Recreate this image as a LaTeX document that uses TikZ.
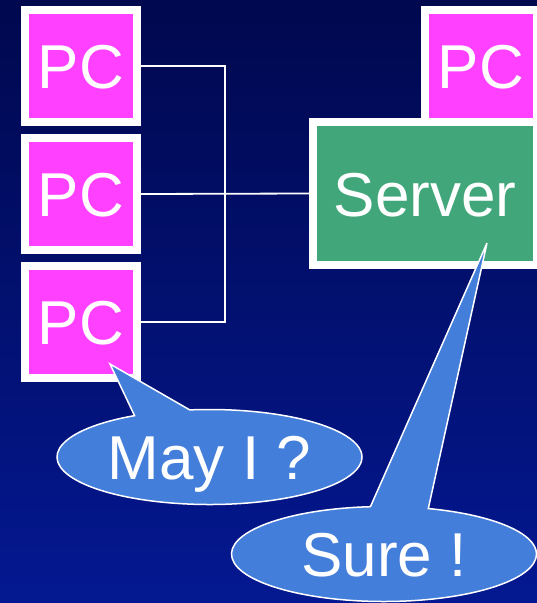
\documentclass[tikz,border=0pt]{standalone}
\usepackage{fontspec}
\setmainfont{Liberation Sans}
\usetikzlibrary{shapes.callouts, positioning}

\definecolor{pcmagenta}{RGB}{255,64,255}
\definecolor{servergreen}{RGB}{65,167,122}
\definecolor{bubbleblue}{RGB}{67,126,218}
\definecolor{bgtop}{RGB}{0,8,78}
\definecolor{bgbottom}{RGB}{4,24,145}

\begin{document}
\begin{tikzpicture}[
    x=1pt, y=-1pt,
    every node/.style={text=white, font=\fontsize{62}{62}\selectfont, text height=45pt, text depth=0pt, inner sep=0pt},
    pcbox/.style={rectangle, draw=white, line width=8pt, fill=pcmagenta, minimum size=112pt},
    serverbox/.style={rectangle, draw=white, line width=8pt, fill=servergreen, minimum width=224pt, minimum height=143pt},
    link/.style={draw=white, line width=1.8pt},
    bubble/.style={ellipse callout, draw=white, line width=1.5pt, fill=bubbleblue, minimum width=305pt, minimum height=95pt, callout pointer arc=22}
]

% Background
\useasboundingbox (0,0) rectangle (537,603);
\clip (0,0) rectangle (537,603);
\fill[top color=bgtop, bottom color=bgbottom] (0,0) rectangle (537,603);

% Participants
\node[pcbox] (pc1) at (81,66) {PC};
\node[pcbox] (pc2) at (81,194) {PC};
\node[pcbox] (pc3) at (81,322) {PC};
\node[pcbox] (pc4) at (481,66) {PC};
\node[serverbox] (server) at (425,193.5) {Server};

% Wiring
\coordinate (hub) at (225,194);
\draw[link] (pc1.east) -| (hub) |- (pc3.east);
\draw[link] (pc2.east) -- (server.west);

% Speech bubbles
\node[bubble, callout absolute pointer={([shift={(29,42)}]pc3.center)}] (ask) at (209.5,457) {May I ?};
\node[bubble, callout absolute pointer={([shift={(62,49.5)}]server.center)}] (reply) at (384,554) {Sure !};

\end{tikzpicture}
\end{document}
